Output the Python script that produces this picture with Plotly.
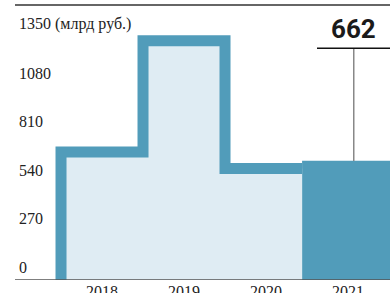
import plotly.graph_objects as go

years = ["2018", "2019", "2020", "2021"]
values = [711, 1330, 619, 662]
ytick_vals = [0, 270, 540, 810, 1080, 1350]
ytick_text = ["0", "270", "540", "810", "1080", "1350 (млрд руб.)"]

W, H = 390, 293
LINE_C = "#519CBA"
FILL_C = "#DFECF3"
SERIF = "Liberation Serif, DejaVu Serif, serif"
COND = "Roboto, sans-serif"

xr = [-1.244, 3.512]
yr = [0, 1556]

bar_w = 1.12
last = len(values) - 1
bar_left = last - bar_w / 2

# step outline for 2018-2020 from values
sx, sy = [-0.5], [0]
for i, v in enumerate(values[:last]):
    sx += [i - 0.5, i + 0.5]
    sy += [v, v]
sx[-1] = bar_left
px = sx + [bar_left]
py = sy + [0]

fig = go.Figure()
fig.add_trace(go.Bar(x=[last], y=[values[last]], width=bar_w,
                     marker=dict(color=LINE_C, line=dict(width=0)), hoverinfo="skip"))
fig.add_trace(go.Scatter(x=px, y=py, mode="lines", fill="toself", fillcolor=FILL_C,
                         line=dict(width=0), hoverinfo="skip"))
fig.add_trace(go.Scatter(x=sx, y=sy, mode="lines", line=dict(color=LINE_C, width=11),
                         hoverinfo="skip"))

annotations = []
for v, t in zip(ytick_vals, ytick_text):
    annotations.append(dict(x=17 / W, xref="paper", y=v, yref="y", text=t, showarrow=False,
                            xanchor="left", yanchor="bottom", yshift=2,
                            font=dict(family=SERIF, size=16, color="#222")))
# callout
cx = last + 0.07
annotations.append(dict(x=cx, xref="x", y=values[last], yref="y", text=str(values[last]),
                        showarrow=False, xanchor="center", yanchor="bottom", yshift=115,
                        font=dict(family=COND, size=26, color="#1a1a1a", weight="bold")))

shapes = [
    dict(type="line", xref="paper", yref="y", x0=15 / W, x1=1, y0=0, y1=0,
         line=dict(color="#555", width=1.5)),
    dict(type="line", xref="paper", yref="paper", x0=15 / W, x1=1, y0=(280 - 5) / 280, y1=(280 - 5) / 280,
         line=dict(color="#666", width=2)),
    dict(type="line", xref="x", yref="paper", x0=cx, x1=cx, y0=(280 - 161) / 280, y1=(280 - 49) / 280,
         line=dict(color="#888", width=1.5)),
    dict(type="line", xref="paper", yref="paper", x0=317 / W, x1=1, y0=(280 - 48.3) / 280, y1=(280 - 48.3) / 280,
         line=dict(color="#111", width=1.5)),
]

fig.update_layout(
    width=W, height=H, margin=dict(l=0, r=0, t=0, b=13, autoexpand=False),
    paper_bgcolor="white", plot_bgcolor="white", showlegend=False,
    xaxis=dict(range=xr, tickvals=list(range(len(years))), ticktext=years, showgrid=False,
               zeroline=False, showline=False, ticks="", fixedrange=True, automargin=False,
               tickfont=dict(family=SERIF, size=16, color="#222")),
    yaxis=dict(range=yr, showticklabels=False, showgrid=False, zeroline=False, showline=False,
               fixedrange=True, automargin=False),
    annotations=annotations, shapes=shapes,
)
fig.write_html("out.html", config={"displayModeBar": False},
               post_script="document.body.style.margin='0';document.body.style.overflow='hidden';")
